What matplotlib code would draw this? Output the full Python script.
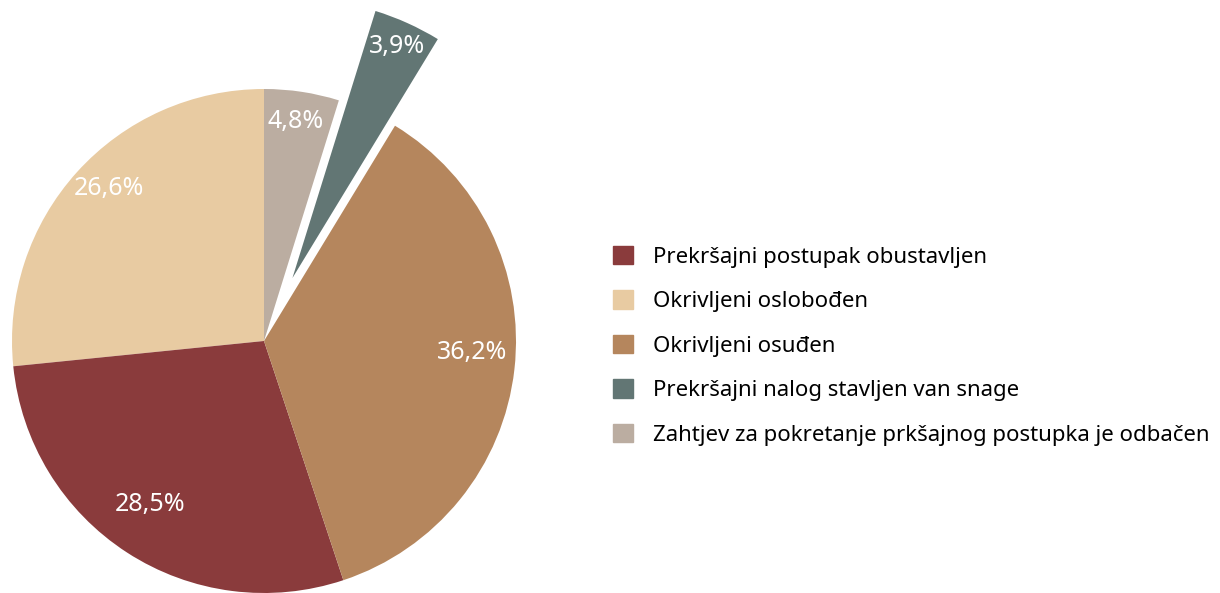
import matplotlib
matplotlib.use("Agg")
import matplotlib.pyplot as plt
import numpy as np

plt.rcParams['font.family'] = ['Noto Sans', 'DejaVu Sans']

# data
categories = ["Prekršajni postupak obustavljen",
              "Okrivljeni oslobođen",
              "Okrivljeni osuđen",
              "Prekršajni nalog stavljen van snage",
              "Zahtjev za pokretanje prkšajnog postupka je odbačen"]
shares = [28.5, 26.6, 36.2, 3.9, 4.8]
colors = ["#8A3B3C", "#E8CBA2", "#B5865D", "#627674", "#BBADA1"]

# slices go counterclockwise from 12 o'clock in this order
draw_order = [1, 0, 2, 3, 4]
pulled = 3  # the slice that is pulled out

vals = [shares[i] for i in draw_order]
cols = [colors[i] for i in draw_order]
explode = [0.274 if i == pulled else 0 for i in draw_order]

fig = plt.figure(figsize=(12.2, 5.93), dpi=100)
ax = fig.add_axes([0, 0, 1, 1])

def fmt(p):
    return f"{p:.1f}".replace(".", ",") + "%"

wedges, texts, autotexts = ax.pie(vals, colors=cols, startangle=90, counterclock=True,
                                  explode=explode, autopct=fmt, pctdistance=0.83,
                                  wedgeprops=dict(linewidth=0),
                                  textprops=dict(color="white", fontsize=18,
                                                 va="bottom"))

# pulled slice is drawn a bit larger
k = draw_order.index(pulled)
w = wedges[k]
w.set_radius(1.11)
mid = np.deg2rad((w.theta1 + w.theta2) / 2)
cx, cy = w.center
autotexts[k].set_position((cx + 1.01 * np.cos(mid), cy + 1.01 * np.sin(mid)))
autotexts[k].set_va("center")

# 1 data unit = 252 px, pie centre at (264, 341) px from top-left
ax.set_xlim(-264 / 252, (1220 - 264) / 252)
ax.set_ylim(-(593 - 341) / 252, 341 / 252)
ax.set_aspect('auto')
ax.axis('off')

handles = [plt.Rectangle((0, 0), 1, 1, color=c) for c in colors]
ax.legend(handles, categories, loc="center left", bbox_to_anchor=(0.5025, 0.417),
          bbox_transform=fig.transFigure, frameon=False, fontsize=16,
          handlelength=0.9, handleheight=0.9, handletextpad=0.9,
          labelspacing=1.02, borderpad=0, borderaxespad=0)

fig.savefig("out.png", dpi=100)
